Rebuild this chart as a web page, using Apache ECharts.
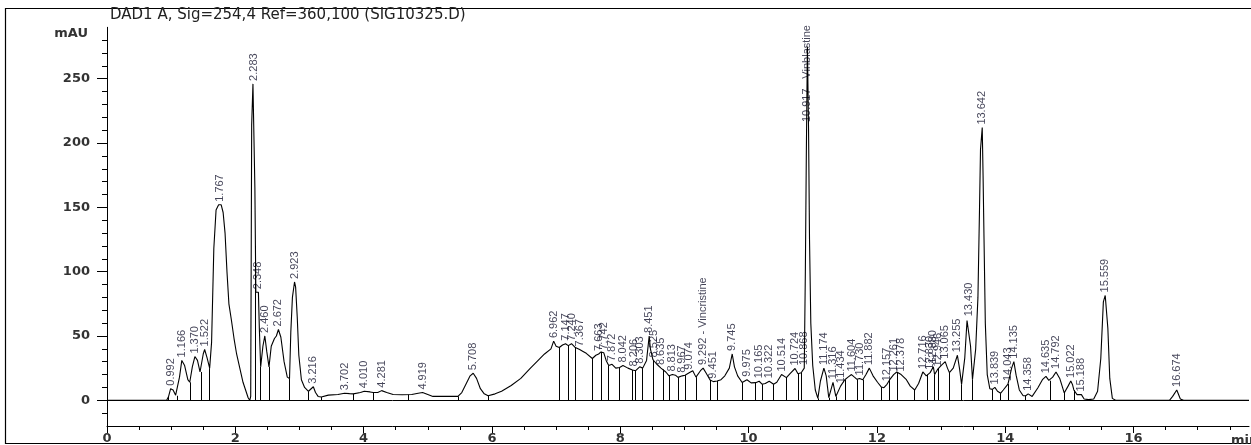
<!DOCTYPE html>
<html>
<head>
<meta charset="utf-8">
<script src="https://cdn.jsdelivr.net/npm/echarts@6/dist/echarts.min.js"></script>
<style>
html,body{margin:0;padding:0;background:#fff;}
#chart{width:1251px;height:445px;}
</style>
</head>
<body>
<div id="chart"></div>
<script>
// ---- signal (retention time in min, absorbance in mAU) ----
const times = [0,0.93,0.96,0.992,1.03,1.07,1.10,1.13,1.166,1.21,1.26,1.29,1.33,1.37,1.41,1.45,1.47,1.50,1.522,1.56,1.60,1.63,1.665,1.70,1.74,1.78,1.81,1.84,1.87,1.90,1.94,1.98,2.02,2.07,2.12,2.16,2.20,2.225,2.24,2.255,2.275,2.29,2.305,2.32,2.36,2.375,2.395,2.43,2.46,2.49,2.525,2.56,2.61,2.64,2.672,2.71,2.76,2.81,2.845,2.865,2.89,2.923,2.94,2.965,2.99,3.03,3.08,3.14,3.17,3.216,3.25,3.29,3.34,3.45,3.60,3.702,3.78,3.84,3.95,4.01,4.10,4.15,4.22,4.281,4.36,4.46,4.60,4.75,4.85,4.919,5.00,5.08,5.25,5.47,5.53,5.60,5.66,5.708,5.76,5.82,5.88,5.94,6.05,6.15,6.30,6.45,6.60,6.72,6.82,6.92,6.962,7.00,7.05,7.10,7.147,7.19,7.24,7.30,7.367,7.42,7.47,7.565,7.62,7.663,7.70,7.742,7.78,7.82,7.872,7.93,7.99,8.042,8.12,8.19,8.206,8.24,8.303,8.35,8.41,8.451,8.47,8.51,8.525,8.57,8.635,8.665,8.71,8.76,8.813,8.86,8.90,8.967,9.01,9.074,9.13,9.18,9.25,9.292,9.34,9.40,9.451,9.51,9.57,9.63,9.70,9.745,9.78,9.83,9.90,9.975,10.04,10.11,10.165,10.21,10.26,10.322,10.39,10.44,10.514,10.59,10.65,10.724,10.77,10.82,10.868,10.885,10.90,10.917,10.935,10.95,10.97,11.00,11.04,11.08,11.12,11.174,11.21,11.25,11.316,11.36,11.434,11.50,11.55,11.604,11.65,11.69,11.73,11.78,11.83,11.882,11.94,12.01,12.07,12.11,12.157,12.20,12.261,12.31,12.378,12.46,12.52,12.59,12.65,12.716,12.77,12.79,12.83,12.88,12.90,12.946,12.96,13.00,13.065,13.10,13.13,13.19,13.255,13.29,13.32,13.37,13.405,13.43,13.46,13.49,13.54,13.575,13.60,13.615,13.642,13.655,13.67,13.69,13.72,13.76,13.80,13.839,13.88,13.93,13.97,14.043,14.10,14.135,14.17,14.22,14.28,14.32,14.358,14.42,14.51,14.58,14.635,14.68,14.70,14.74,14.792,14.85,14.92,14.98,15.022,15.05,15.07,15.12,15.188,15.23,15.30,15.38,15.44,15.49,15.53,15.559,15.60,15.63,15.67,15.72,16.56,16.61,16.674,16.73,16.78,17.8];
const signal = [0,0,3,9,8,4,3.5,18,31,27,16,14,26,34,31,22,22,36,39.5,33,25,45,118,148,152,152,146,130,100,75,62,48,36,25,14,8,2,0,3,214,246,246,165,84,84,55,26,42,50,38,26,42,48,50,55,49,30,18,17,53,80,92,88,65,35,16,10,7,8,10.5,6,3,2.5,4,4.5,5.5,5.2,5,6,7,6.5,6,6,7.5,6,4.5,4.3,4.5,5.5,6,4.5,3,3,3,6,13,19,21,17,9,5,3.5,5,7,11.5,17,25,31,36,40,46,42,41,43,44,42.5,44,41,39.5,38,36.5,32.5,35,36,37.6,37,31,27,28,25,25.5,27,25,23.5,24,23,26,25,31,50,40,31.5,31,28,25,24,22,19,20,19.5,17.8,19,19.5,21.4,23,18,23,25,21,15.8,14.5,15,16,19,25,36,26,19,13.8,16,13.5,13.7,14.8,12.5,13,14.8,12.5,14,20,17.6,21,24.7,20.6,21.4,25,100,190,275,210,125,60,27,8,1.5,15,25,19,2,14,3,11,16,18,20,18,16.3,17,16,20,25,19,14,10.3,9.8,12.4,16,20,22,20,16,11,8,13,22,19,20,21.5,26,20,24,25,27,30,25,21.5,25,35,24,12.4,33,62,63,42,16,40,80,150,195,212,175,125,60,20,9,8.5,10,7,5.5,8,12.6,25,30,19.5,8,3.5,3.5,5,3,9.7,16,18.6,15.5,15.2,18,22,17,5.7,11,15,12,8,4.4,4.4,1,0.5,1,7,32.5,76.5,81.5,56,17,1.5,0,0,3,8,1,0,0];

// ---- integration drop lines (time, signal height) ----
const dropTimes = [0.96,1.10,1.29,1.47,1.60,2.225,2.31,2.395,2.525,2.845,3.14,3.34,3.84,4.15,4.70,5.47,5.94,7.05,7.19,7.30,7.565,7.70,7.82,7.99,8.19,8.24,8.35,8.51,8.665,8.76,8.90,9.01,9.18,9.40,9.51,9.90,10.11,10.21,10.39,10.59,10.77,10.82,11.08,11.25,11.36,11.50,11.69,11.78,12.07,12.20,12.31,12.59,12.79,12.90,12.96,13.13,13.32,13.49,13.80,13.93,14.043,14.32,14.70,14.92,15.07];
const dropHeights = [3,3.5,14,22,25,0,120,26,26,17,7,2.5,5,6,4.4,3,3.5,41,42.5,41,32.5,37.6,27,25.5,23.5,23,25,31.5,24,19,17.8,19.5,18,15.8,15,13.8,13.7,12.5,12.5,17.6,20.6,21.4,1.5,2,3,16,16.3,16,10.3,16,22,8,20,20,25,21.5,12.4,16,8.5,5.5,12.6,3.5,15.2,5.7,8];

// ---- peak annotations ----
const peakTexts = ["0.992","1.166","1.370","1.522","1.767","2.283","2.348","2.460","2.672","2.923","3.216","3.702","4.010","4.281","4.919","5.708","6.962","7.147","7.240","7.367","7.663","7.742","7.872","8.042","8.206","8.303","8.451","8.525","8.635","8.813","8.967","9.074","9.292 - Vincristine","9.451","9.745","9.975","10.165","10.322","10.514","10.724","10.868","10.917 - Vinblastine","11.174","11.316","11.434","11.604","11.730","11.882","12.157","12.261","12.378","12.716","12.830","12.880","12.946","13.065","13.255","13.430","13.642","13.839","14.043","14.135","14.358","14.635","14.792","15.022","15.188","15.559","16.674"];
const peakTimes = [0.992,1.166,1.370,1.522,1.767,2.283,2.348,2.460,2.672,2.923,3.216,3.702,4.010,4.281,4.919,5.708,6.962,7.147,7.240,7.367,7.663,7.742,7.872,8.042,8.206,8.303,8.451,8.525,8.635,8.813,8.967,9.074,9.292,9.451,9.745,9.975,10.165,10.322,10.514,10.724,10.868,10.917,11.174,11.316,11.434,11.604,11.730,11.882,12.157,12.261,12.378,12.716,12.830,12.880,12.946,13.065,13.255,13.430,13.642,13.839,14.043,14.135,14.358,14.635,14.792,15.022,15.188,15.559,16.674];
const peakLabelHeights = [9,31,34,39.5,152,246,84,50,55,92,10.5,5.5,7,7.5,6,21,46,44,44,39.5,36,37,28,27,24,26,50,31,25,20,19,21.4,25,14.5,36,16,14.8,14.8,20,24.7,25,214,25,14,11,20,17,25,12.4,20,20,22,21.5,26,24,30,35,63,212,10,12.6,30,5,18.6,22,15,4.4,81.5,8];

// ---- axes ----
const xMajorTicks = [0,2,4,6,8,10,12,14,16];
const xMinorTicks = [0,0.5,1,1.5,2,2.5,3,3.5,4,4.5,5,5.5,6,6.5,7,7.5,8,8.5,9,9.5,10,10.5,11,11.5,12,12.5,13,13.5,14,14.5,15,15.5,16,16.5,17,17.5];
const yMajorTicks = [0,50,100,150,200,250];
const yMinorTicks = [-10,0,10,20,30,40,50,60,70,80,90,100,110,120,130,140,150,160,170,180,190,200,210,220,230,240,250,260,270,280];
const titleText = "DAD1 A, Sig=254,4 Ref=360,100 (SIG10325.D)";
const yUnit = "mAU";
const xUnit = "min";

const X_MIN = 0, X_MAX = 17.8, Y_MIN = -20, Y_MAX = 290;

const chart = echarts.init(document.getElementById('chart'), null, {renderer: 'canvas'});
const tickFont = {fontFamily: 'DejaVu Sans', fontSize: 13, fontWeight: 'bold', color: '#333'};

const lineData = times.map((t, i) => [t, signal[i]]);
const dropData = dropTimes.map((t, i) => [{coord: [t, 0]}, {coord: [t, dropHeights[i]]}]);
const labelData = peakTimes.map((t, i) => [t, peakLabelHeights[i], peakTexts[i]]);

chart.setOption({
  animation: false,
  backgroundColor: '#fff',
  grid: {left: 107, right: 2, top: 27.3, bottom: 16.8, containLabel: false},
  xAxis: [
    {type: 'value', min: X_MIN, max: X_MAX, position: 'bottom',
     axisLine: {show: true, onZero: false, lineStyle: {color: '#000', width: 1}},
     axisTick: {show: true, customValues: xMinorTicks, length: 4, lineStyle: {color: '#000'}},
     axisLabel: {show: false}, splitLine: {show: false}},
    {type: 'value', min: X_MIN, max: X_MAX, position: 'bottom',
     axisLine: {show: false, onZero: false},
     axisTick: {show: true, customValues: xMajorTicks, length: 7, lineStyle: {color: '#000'}},
     axisLabel: Object.assign({show: true, customValues: xMajorTicks, margin: 6}, tickFont),
     splitLine: {show: false}}
  ],
  yAxis: [
    {type: 'value', min: Y_MIN, max: Y_MAX, position: 'left',
     axisLine: {show: true, onZero: false, lineStyle: {color: '#000', width: 1}},
     axisTick: {show: true, customValues: yMinorTicks, length: 5, lineStyle: {color: '#000'}},
     axisLabel: {show: false}, splitLine: {show: false}},
    {type: 'value', min: Y_MIN, max: Y_MAX, position: 'left',
     axisLine: {show: false, onZero: false},
     axisTick: {show: true, customValues: yMajorTicks, length: 10, lineStyle: {color: '#000'}},
     axisLabel: Object.assign({show: true, customValues: yMajorTicks, margin: 17}, tickFont),
     splitLine: {show: false}}
  ],
  series: [
    {type: 'line', xAxisIndex: 0, yAxisIndex: 0, data: lineData, showSymbol: false, symbol: 'none',
     lineStyle: {color: '#000', width: 1.1}, silent: true, clip: false,
     markLine: {silent: true, symbol: ['none', 'none'], label: {show: false},
       lineStyle: {color: '#000', width: 1, type: 'solid'}, data: [{yAxis: 0}]}},
    {type: 'line', xAxisIndex: 0, yAxisIndex: 0, data: [], silent: true,
     markLine: {silent: true, symbol: ['none', 'none'], label: {show: false},
       lineStyle: {color: '#000', width: 1, type: 'solid'}, data: dropData}},
    {type: 'scatter', xAxisIndex: 0, yAxisIndex: 0, data: labelData, symbolSize: 0, silent: true,
     label: {show: true, position: 'top', distance: 3, rotate: 90, align: 'left', verticalAlign: 'middle',
       formatter: p => p.data[2], fontFamily: 'Liberation Sans', fontSize: 11, color: '#15152e'}}
  ],
  graphic: [
    {type: 'rect', shape: {x: 5.5, y: 8.5, width: 1250, height: 435}, style: {fill: 'none', stroke: '#000', lineWidth: 1.2}, silent: true},
    {type: 'text', left: 110, top: 8, style: {text: titleText, font: '15px "DejaVu Sans"', fill: '#222'}, silent: true},
    {type: 'text', right: 1251 - 88, top: 27, style: {text: yUnit, font: 'bold 13px "DejaVu Sans"', fill: '#333'}, silent: true},
    {type: 'text', left: 1231, top: 434, style: {text: xUnit, font: 'bold 13px "DejaVu Sans"', fill: '#333'}, silent: true}
  ]
});
</script>
</body>
</html>
